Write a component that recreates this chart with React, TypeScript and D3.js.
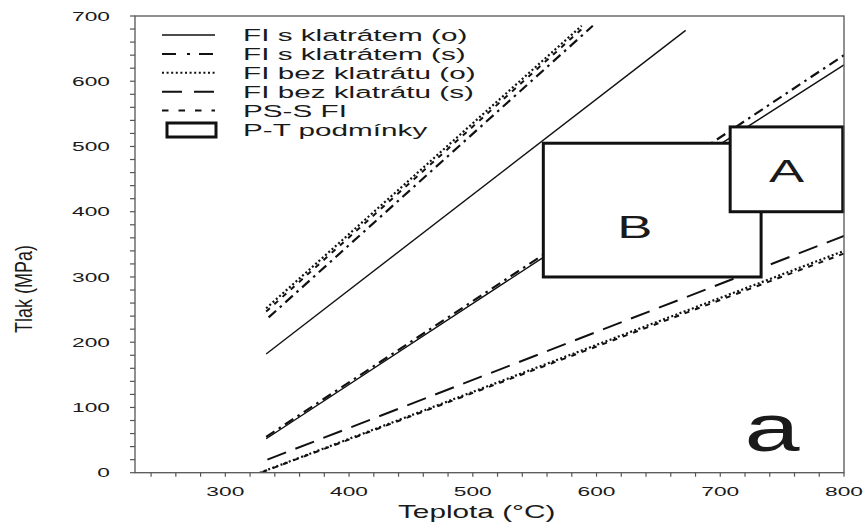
import React from "react";
import * as d3 from "d3";

// ---------- data ----------
const tempTicks = [300, 400, 500, 600, 700, 800];
const pressTicks = [0, 100, 200, 300, 400, 500, 600, 700];
const tempMinorStep = 20;
const pressMinorStep = 20;

// isochores: [temperature °C, pressure MPa]
const fiKlatratemO_upper: [number, number][] = [[333, 182], [672, 678]];
const fiKlatratemO_lower: [number, number][] = [[333, 52], [557, 330], [800, 625]];
const fiKlatratemS_upper: [number, number][] = [[335, 238], [597, 685]];
const fiKlatratemS_lower: [number, number][] = [[333, 55], [557, 334], [800, 640]];
const fiBezO_upper: [number, number][] = [[333, 252], [588, 685]];
const fiBezO_lower: [number, number][] = [[328, 0], [800, 340]];
const fiBezS_lower: [number, number][] = [[334, 20], [800, 363]];
const pssFi_upper: [number, number][] = [[333, 247], [591, 685]];
const pssFi_lower: [number, number][] = [[330, 1], [800, 336]];

// P-T condition boxes: [tMin, tMax, pMin, pMax]
const boxB = [557, 733, 300, 505];
const boxA = [708, 799, 400, 530];
const boxLabels = ["B", "A"];
const boxLabelPos: [number, number][] = [[631, 376], [708 + 45.5, 462]];

const legendLabels = [
  "FI s klatrátem (o)",
  "FI s klatrátem (s)",
  "FI bez klatrátu (o)",
  "FI bez klatrátu (s)",
  "PS-S FI",
  "P-T podmínky",
];

// ---------- layout ----------
const W = 868;
const H = 528;
const L = 135, R = 844, T = 16, B = 472.7;
const FONT = "Arial, 'Liberation Sans', Helvetica, sans-serif";
const INK = "#111";
const AX = "#555";

const x = d3.scaleLinear().domain([227, 800]).range([L, R]);
const y = d3.scaleLinear().domain([0, 700]).range([B, T]);
const line = d3.line<[number, number]>().x(d => x(d[0])).y(d => y(d[1]));

type Style = { dash?: string; width: number };
const styles: Style[] = [
  { width: 1.4 },
  { dash: "10 5 2.5 5", width: 2.2 },
  { dash: "2 2.4", width: 2.2 },
  { dash: "20 10", width: 2 },
  { dash: "5 6", width: 2 },
];
const legendDash: (string | undefined)[] = [undefined, "14 11 3 9", "2 2.6", "20 12", "6.5 10"];

const series: { pts: [number, number][]; s: number }[] = [
  { pts: fiKlatratemO_upper, s: 0 },
  { pts: fiKlatratemO_lower, s: 0 },
  { pts: fiKlatratemS_upper, s: 1 },
  { pts: fiKlatratemS_lower, s: 1 },
  { pts: fiBezO_upper, s: 2 },
  { pts: fiBezO_lower, s: 2 },
  { pts: fiBezS_lower, s: 3 },
  { pts: pssFi_upper, s: 4 },
  { pts: pssFi_lower, s: 4 },
];

function SText(props: {
  x: number; y: number; sx?: number; sy?: number; size: number;
  anchor?: "start" | "middle" | "end"; children: React.ReactNode; rotate?: number;
}) {
  const { sx = 1, sy = 1, rotate = 0 } = props;
  return (
    <text
      transform={`translate(${props.x},${props.y}) rotate(${rotate}) scale(${sx},${sy})`}
      textAnchor={props.anchor || "start"}
      fontFamily={FONT}
      fontSize={props.size}
      fill="#1a1a1a"
    >
      {props.children}
    </text>
  );
}

export default function App() {
  const xMinor = d3.range(240, 800.1, tempMinorStep);
  const yMinor = d3.range(0, 700.1, pressMinorStep);
  const boxes = [boxB, boxA];
  const legendY = (i: number) => 35 + i * 18.9;

  return (
    <svg width={W} height={H} style={{ position: "absolute", left: 0, top: 0, background: "#fff" }}>
      <defs>
        <clipPath id="plot">
          <rect x={L} y={T} width={R - L} height={B - T} />
        </clipPath>
      </defs>
      <rect x={0} y={0} width={W} height={H} fill="#fff" />

      {/* lines */}
      <g clipPath="url(#plot)">
        {series.map((d, i) => (
          <path
            key={i}
            d={line(d.pts) || ""}
            fill="none"
            stroke={INK}
            strokeWidth={styles[d.s].width}
            strokeDasharray={styles[d.s].dash}
          />
        ))}
      </g>

      {/* P-T boxes */}
      {boxes.map((b, i) => (
        <rect
          key={i}
          x={x(b[0])}
          y={y(b[3])}
          width={x(b[1]) - x(b[0])}
          height={y(b[2]) - y(b[3])}
          fill="#fff"
          stroke={INK}
          strokeWidth={3}
        />
      ))}
      {boxLabels.map((t, i) => (
        <SText key={t} x={x(boxLabelPos[i][0])} y={y(boxLabelPos[i][1]) + 11} size={31} sx={1.7} anchor="middle">
          {t}
        </SText>
      ))}

      {/* frame */}
      <rect x={L} y={T} width={R - L} height={B - T} fill="none" stroke={AX} strokeWidth={1.3} />

      {/* x ticks */}
      {xMinor.map(v => (
        <line key={"xt" + v} x1={x(v)} x2={x(v)} y1={B} y2={B + 4} stroke={AX} strokeWidth={1.2} />
      ))}
      {tempTicks.map(v => (
        <SText key={"xl" + v} x={x(v)} y={496} size={13} sx={1.75} anchor="middle">
          {v}
        </SText>
      ))}
      {/* y ticks */}
      {yMinor.map(v => (
        <line key={"yt" + v} x1={L - 5} x2={L} y1={y(v)} y2={y(v)} stroke={AX} strokeWidth={1.2} />
      ))}
      {pressTicks.map(v => (
        <SText key={"yl" + v} x={110} y={y(v) + 4.7} size={13} sx={1.75} anchor="end">
          {v}
        </SText>
      ))}

      {/* axis titles */}
      <SText x={398} y={518} size={17.5} sx={1.7} anchor="start">Teplota (°C)</SText>
      <SText x={32} y={289} size={18} sy={1.35} rotate={-90} anchor="middle">Tlak (MPa)</SText>

      {/* panel letter */}
      <SText x={772} y={451} size={66} sx={1.5} anchor="middle">a</SText>

      {/* legend */}
      {legendLabels.map((lab, i) => (
        <g key={lab}>
          {i < 5 ? (
            <line
              x1={162}
              x2={215}
              y1={legendY(i)}
              y2={legendY(i)}
              stroke={INK}
              strokeWidth={i === 0 ? 1.4 : 2}
              strokeDasharray={legendDash[i]}
            />
          ) : (
            <rect x={167} y={legendY(i) - 6.5} width={49} height={14} fill="none" stroke={INK} strokeWidth={3} />
          )}
          <SText x={243} y={legendY(i) + 6} size={16.5} sx={1.8}>
            {lab}
          </SText>
        </g>
      ))}
    </svg>
  );
}
